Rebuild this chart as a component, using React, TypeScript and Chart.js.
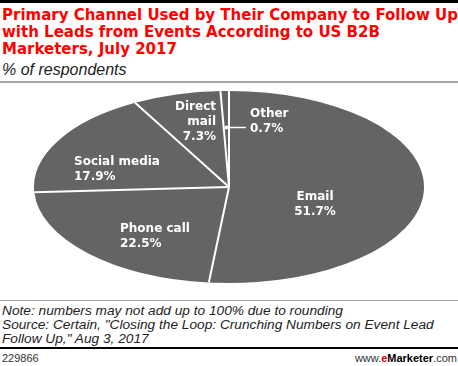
import React, { useEffect, useRef } from "react";
import { Chart, registerables } from "chart.js";

Chart.register(...registerables);

// ---- data ----
const categories = ["Email", "Phone call", "Social media", "Direct mail", "Other"];
const values = [51.7, 22.5, 17.9, 7.3, 0.7];
const labelNameLines = [["Email"], ["Phone call"], ["Social media"], ["Direct", "mail"], ["Other"]];

const titleLines = [
  "Primary Channel Used by Their Company to Follow Up",
  "with Leads from Events According to US B2B",
  "Marketers, July 2017",
];
const subtitle = "% of respondents";
const noteLines = [
  "Note: numbers may not add up to 100% due to rounding",
  'Source: Certain, "Closing the Loop: Crunching Numbers on Event Lead',
  'Follow Up," Aug 3, 2017',
];
const chartId = "229866";

// ---- style / layout ----
const SLICE_COLOR = "#646464";
const RX = 195; // horizontal radius of the ellipse
const RY = 96; // vertical radius of the ellipse
const LINE_H = 15;
// label placement relative to pie centre (dx, dy of first baseline) and alignment
const labelPlacement: { dx: number; dy: number; align: CanvasTextAlign }[] = [
  { dx: 86, dy: 13, align: "center" },
  { dx: -109, dy: 45, align: "left" },
  { dx: -155, dy: -22, align: "left" },
  { dx: -13, dy: -77, align: "right" },
  { dx: 21, dy: -70, align: "left" },
];
const LEADER_INDEX = 4;

const ellipsePlugin = {
  id: "ellipsePie",
  beforeDatasetsDraw(chart: any) {
    const arc = chart.getDatasetMeta(0).data[0];
    const { x, y, outerRadius } = arc;
    const ctx = chart.ctx;
    ctx.save();
    ctx.translate(x, y);
    ctx.scale(RX / outerRadius, RY / outerRadius);
    ctx.translate(-x, -y);
  },
  afterDatasetsDraw(chart: any) {
    const ctx: CanvasRenderingContext2D = chart.ctx;
    ctx.restore();
    const arcs = chart.getDatasetMeta(0).data;
    const cx = arcs[0].x;
    const cy = arcs[0].y;
    // separators
    ctx.save();
    ctx.strokeStyle = "#ffffff";
    ctx.lineWidth = 2;
    arcs.forEach((a: any) => {
      const ang = a.startAngle;
      ctx.beginPath();
      ctx.moveTo(cx, cy);
      ctx.lineTo(cx + RX * Math.cos(ang), cy + RY * Math.sin(ang));
      ctx.stroke();
    });
    // leader for small slice
    const la = arcs[LEADER_INDEX];
    const mid = (la.startAngle + la.endAngle) / 2;
    const px = cx + RX * 0.62 * Math.cos(mid);
    const py = cy + RY * 0.62 * Math.sin(mid);
    ctx.fillStyle = "#ffffff";
    ctx.beginPath();
    ctx.arc(px, py, 2, 0, Math.PI * 2);
    ctx.fill();
    ctx.lineWidth = 1.5;
    ctx.beginPath();
    ctx.moveTo(px, py);
    ctx.lineTo(cx + labelPlacement[LEADER_INDEX].dx - 4, py);
    ctx.stroke();
    // labels
    ctx.font = "bold 12px 'DejaVu Sans'";
    ctx.textBaseline = "alphabetic";
    values.forEach((v, i) => {
      const p = labelPlacement[i];
      const lines = [...labelNameLines[i], v.toFixed(1) + "%"];
      ctx.textAlign = p.align;
      lines.forEach((t, k) => {
        ctx.fillText(t, cx + p.dx, cy + p.dy + k * LINE_H);
      });
    });
    ctx.restore();
  },
};

export default function App() {
  const ref = useRef<HTMLCanvasElement | null>(null);
  useEffect(() => {
    if (!ref.current) return;
    const chart = new Chart(ref.current, {
      type: "pie",
      data: {
        labels: categories,
        datasets: [
          {
            data: values,
            backgroundColor: SLICE_COLOR,
            borderWidth: 0,
            clip: false as any,
          },
        ],
      },
      options: {
        responsive: false,
        animation: false,
        events: [],
        layout: { padding: 0 },
        plugins: { legend: { display: false }, tooltip: { enabled: false } },
      },
      plugins: [ellipsePlugin],
    });
    return () => chart.destroy();
  }, []);

  const abs: React.CSSProperties = { position: "absolute" };
  return (
    <div style={{ position: "relative", width: 458, height: 366, overflow: "hidden", background: "#fff" }}>
      <style>{"body{margin:0}"}</style>
      <div style={{ ...abs, left: 0, top: 0, width: 458, height: 3, background: "#000" }} />
      <div
        style={{
          ...abs,
          left: 2,
          top: 7,
          fontFamily: "'DejaVu Sans'",
          fontWeight: "bold",
          fontSize: 15,
          lineHeight: "17px",
          color: "#ff0000",
          whiteSpace: "nowrap",
        }}
      >
        {titleLines.map((t, i) => (
          <div key={i}>{t}</div>
        ))}
      </div>
      <div
        style={{
          ...abs,
          left: 2,
          top: 60.5,
          fontFamily: "'Liberation Sans'",
          fontStyle: "italic",
          fontSize: 16,
          lineHeight: "18px",
          color: "#222",
        }}
      >
        {subtitle}
      </div>
      <div style={{ ...abs, left: 0, top: 81, width: 458, height: 2, background: "#a6a6a6" }} />
      <canvas ref={ref} width={458} height={214} style={{ ...abs, left: 0, top: 80, width: 458, height: 214 }} />
      <div style={{ ...abs, left: 0, top: 300, width: 458, height: 1, background: "#a6a6a6" }} />
      <div
        style={{
          ...abs,
          left: 2,
          top: 304.4,
          fontFamily: "'Liberation Sans'",
          fontStyle: "italic",
          fontSize: 13.7,
          lineHeight: "13.75px",
          color: "#222",
          whiteSpace: "nowrap",
        }}
      >
        {noteLines.map((t, i) => (
          <div key={i}>{t}</div>
        ))}
      </div>
      <div style={{ ...abs, left: 0, top: 347, width: 458, height: 2, background: "#000" }} />
      <div
        style={{
          ...abs,
          left: 2,
          top: 352,
          fontFamily: "'Liberation Sans'",
          fontSize: 11,
          lineHeight: "12px",
          color: "#333",
        }}
      >
        {chartId}
      </div>
      <div
        style={{
          ...abs,
          right: 1,
          top: 352,
          fontFamily: "'Liberation Sans'",
          fontSize: 11,
          lineHeight: "12px",
          color: "#333",
          whiteSpace: "nowrap",
        }}
      >
        www.<b style={{ color: "#e00000" }}>e</b>
        <b style={{ color: "#000" }}>Marketer</b>.com
      </div>
    </div>
  );
}
